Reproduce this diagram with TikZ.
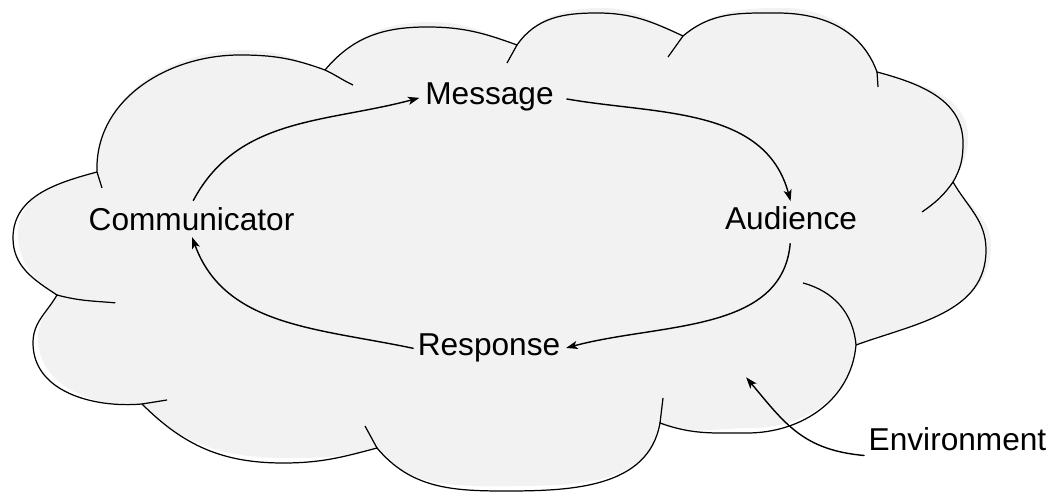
\documentclass[tikz,border=0pt]{standalone}
\usepackage{fontspec}
\setmainfont{Liberation Sans}
\usetikzlibrary{arrows.meta}

% outline of the cloud, from joint to joint
\newcommand\cloudrim{(ka) to[out=92,in=180] (240,438) to[out=0,in=160] (ab)
  to[out=50,in=180] (427,466) to[out=0,in=160] (bc)
  to[out=55,in=180] (597,480) to[out=0,in=155] (cd)
  to[out=40,in=180] (777,480) to[out=0,in=110] (de)
  to[out=-15,in=90] (963,350) to[out=-90,in=60] (ef)
  to[out=-60,in=90] (986,243) to[out=-90,in=20] (fg)
  to[out=-95,in=0] (747,60) to[out=180,in=-20] (gh)
  to[out=-100,in=0] (505,2) to[out=180,in=-50] (hi)
  to[out=195,in=0] (283,30) to[out=180,in=-45] (ij)
  to[out=185,in=-90] (33,150) to[out=90,in=-120] (jk)
  to[out=147,in=-90] (13,255) to[out=90,in=195] (ka) -- cycle}

\begin{document}
\begin{tikzpicture}[x=0.02cm,y=0.02cm,>={Stealth[length=6.5pt,width=4.6pt,inset=1.6pt]},
  shorten >=1pt,line width=0.8pt,
  lbl/.style={anchor=base,inner sep=2pt,font=\fontsize{18}{20}\selectfont}]
\useasboundingbox (0,0) rectangle (1060,493);

% define the joints of the cloud
  \coordinate (ka) at (97,321);
  \coordinate (ab) at (325,423);
  \coordinate (bc) at (517,448);
  \coordinate (cd) at (683,457);
  \coordinate (de) at (877,421);
  \coordinate (ef) at (953,311);
  \coordinate (fg) at (856,148);
  \coordinate (gh) at (660,70);
  \coordinate (hi) at (377,45);
  \coordinate (ij) at (142,89);
  \coordinate (jk) at (57,198);

% the cloud itself
  \fill[black!5,shift={(5,5)}] \cloudrim;
  \draw[line width=0.7pt] \cloudrim;
  \draw[line width=0.7pt] (ka) -- (102,305)
        (ab) to[out=-25,in=155] (353,408)
        (507,430) -- (bc)
        (668,436) -- (cd)
        (de) -- (878,406)
        (ef) to[out=235,in=35] (922,281)
        (803,210) to[out=-15,in=95] (fg)
        (663,95) -- (gh)
        (hi) -- (365,67)
        (ij) -- (167,93)
        (jk) to[out=-15,in=175] (117,190);

% define the labels
  \node[lbl] (msg)  at (489.5,388) {Message};
  \node[lbl] (comm) at (191.5,262) {Communicator};
  \node[lbl] (aud)  at (791,263)   {Audience};
  \node[lbl] (resp) at (489,137)   {Response};
  \node[lbl] (env)  at (957.5,42)  {Environment};
  \coordinate (envtip) at (745,117);

% define the links
  \path[->] (comm.north) edge[out=62,in=195,shorten <=2pt] (msg.west)
            (msg.east)   edge[out=-10,in=105,shorten <=5pt] (aud.north)
            (aud.south)  edge[out=-95,in=15,shorten <=5pt]  (resp.east)
            (resp.west)  edge[out=168,in=-70]               (comm.south)
            (env.south west) edge[out=175,in=-50,looseness=1.1] (envtip);

\end{tikzpicture}
\end{document}
